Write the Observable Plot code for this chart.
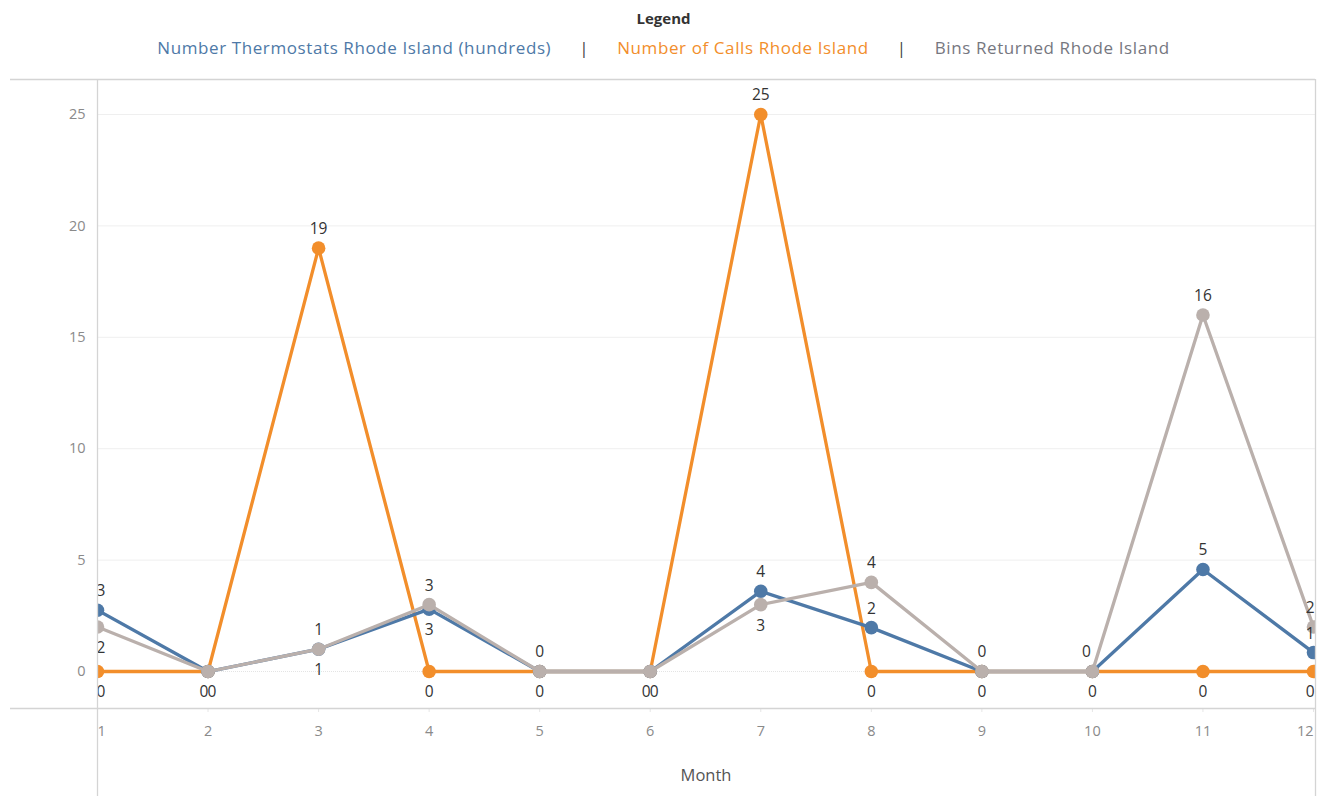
<!DOCTYPE html>
<html><head><meta charset="utf-8">
<script src="https://cdn.jsdelivr.net/npm/d3@7"></script>
<script src="https://cdn.jsdelivr.net/npm/@observablehq/plot@0.6"></script>
<style>
body{margin:0;background:#fff;font-family:"Open Sans",sans-serif;}
#legend{height:70px;width:1327px;position:relative;}
#legend .title{position:absolute;top:8px;width:100%;text-align:center;font-size:15px;font-weight:bold;color:#333;font-family:"Open Sans",sans-serif;}
#legend .items{position:absolute;top:36px;width:100%;text-align:center;font-size:17px;white-space:nowrap;font-family:"Open Sans",sans-serif;letter-spacing:0.6px;}
#legend .sep{color:#444;margin:0 28px;}
</style></head><body>
<div id="legend"></div><div id="chart"></div>
<script>
const months = [1,2,3,4,5,6,7,8,9,10,11,12];
const thermostats = [2.75,0,1,2.8,0,0,3.6,1.97,0,0,4.58,0.85];
const calls = [0,0,19,0,0,0,25,0,0,0,0,0];
const bins = [2,0,1,3,0,0,3,4,0,0,16,2];
const seriesNames = ["Number Thermostats Rhode Island (hundreds)","Number of Calls Rhode Island","Bins Returned Rhode Island"];
const seriesColors = ["#4e79a7","#f28e2b","#bab0ac"];
const legendTextColors = ["#4e79a7","#f28e2b","#76777f"];
const yTicks = [0,5,10,15,20,25];
// label placement per month: "a" above, "b" below, "" hidden
const thermoLabelSide = ["a","b","b","b","a","b","a","a","a","a","a","a"];
const callsLabelSide  = ["b","b","a","b","b","b","a","b","b","b","b","b"];
const binsLabelSide   = ["b","","a","a","","","b","a","","","a","a"];
const thermoNudge = [0,4,0,0,0,4,0,0,0,-6,0,0];
const callsNudge  = [0,-4,0,0,0,-4,0,0,0,0,0,0];
const binsNudge   = [0,0,0,0,0,0,0,0,0,0,0,0];

// legend
const lg = document.getElementById("legend");
lg.innerHTML = `<div class="title">Legend</div><div class="items">` +
  seriesNames.map((n,i)=>`<span style="color:${legendTextColors[i]}">${n}</span>`).join(`<span class="sep">|</span>`) + `</div>`;

const valuesBySeries = [thermostats, calls, bins];
const sides = [thermoLabelSide, callsLabelSide, binsLabelSide];
const nudges = [thermoNudge, callsNudge, binsNudge];
const firstMonth = months[0], lastMonth = months[months.length-1];
const rows = [];
valuesBySeries.forEach((vals, s) => months.forEach((m, i) => rows.push({
  series: seriesNames[s], s, month: m, value: vals[i], side: sides[s][i], nudge: nudges[s][i],
  anchor: m===firstMonth ? "start" : m===lastMonth ? "end" : "middle"})));
const drawOrder = [1,0,2];
const W = 1327, H = 726;
const mL = 97, mR = 12, mT = 9, mB = 88;

const marks = [
  Plot.gridY(yTicks.filter(d=>d>0), {stroke:"#efefef", strokeOpacity:1}),
  Plot.ruleY([0], {stroke:"#e4e4e4", strokeDasharray:"1,1"}),
  Plot.axisY(yTicks, {tickSize:0, tickPadding:12, fontSize:14.5, color:"#8a8a8a", label:null}),
  Plot.axisX(months, {tickSize:4, stroke:"#e6e6e6", tickPadding:13, fontSize:14.5, color:"#8a8a8a", label:null, tickFormat: d=>String(d)}),
];
for (const s of drawOrder) {
  const data = rows.filter(r=>r.s===s);
  marks.push(Plot.line(data, {x:"month", y:"value", stroke: seriesColors[s], strokeWidth:3.3, clip:true}));
  marks.push(Plot.dot(data, {x:"month", y:"value", fill: seriesColors[s], r:6.8, clip:true}));
}
const fmt = d3.format(".0f");
const anchorShift = {start:-1, middle:0, end:1};
for (const [side, dy] of [["a",-19],["b",21]]) {
  const group = rows.filter(r=>r.side===side);
  const keys = Array.from(new Set(group.map(r=>r.nudge+"|"+r.anchor)));
  for (const k of keys) {
    const [n, anchor] = k.split("|");
    marks.push(Plot.text(group.filter(r=>r.nudge+"|"+r.anchor===k), {x:"month", y:"value", text:d=>fmt(d.value), dy, dx:+n + anchorShift[anchor], textAnchor:anchor, fontSize:15.5, fill:"#333", clip:true}));
  }
}

const chart = Plot.plot({
  width: W, height: H,
  marginLeft: mL, marginRight: mR, marginTop: mT, marginBottom: mB,
  style: {fontFamily: "'Open Sans', sans-serif", background: "#fff"},
  x: {domain:[1,12], range:[mL, W - mR - 2]},
  y: {domain:[-1.66, 26.57]},
  marks
});
document.getElementById("chart").appendChild(chart);

const svg = d3.select(chart);
// keep end tick labels inside the pane, as Tableau does
const xt = svg.selectAll('g[aria-label="x-axis tick label"] text');
const n = xt.size();
xt.each(function(d, i){ if (i===0) d3.select(this).attr("text-anchor","start"); if (i===n-1) d3.select(this).attr("text-anchor","end"); });
// pane border lines
const g = svg.append("g").attr("stroke","#d4d4d4").attr("stroke-width",1.3);
g.append("line").attr("x1",10).attr("x2",W-mR).attr("y1",mT+0.5).attr("y2",mT+0.5);
g.append("line").attr("x1",10).attr("x2",W-mR).attr("y1",H-mB+0.5).attr("y2",H-mB+0.5);
g.append("line").attr("x1",mL+0.5).attr("x2",mL+0.5).attr("y1",mT).attr("y2",H);
g.append("line").attr("x1",W-mR+0.5).attr("x2",W-mR+0.5).attr("y1",mT).attr("y2",H);
svg.append("text").attr("x",(mL+W-mR)/2).attr("y",H-15).attr("text-anchor","middle")
  .attr("font-size",16.5).attr("fill","#555").attr("font-family","'Open Sans', sans-serif").text("Month");
</script></body></html>
